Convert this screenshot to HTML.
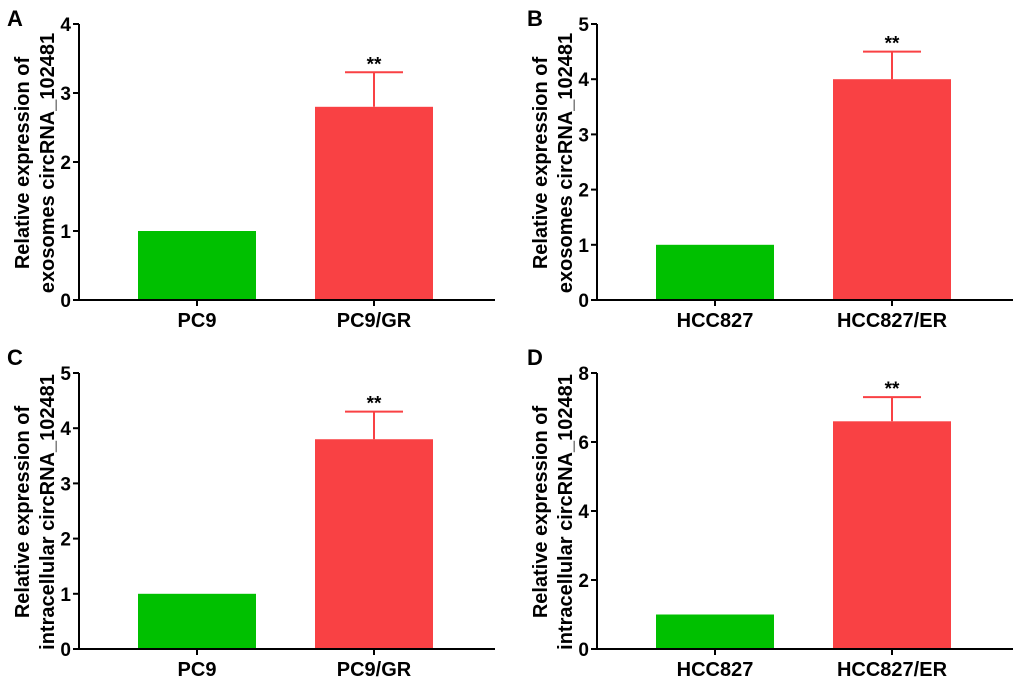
<!DOCTYPE html>
<html><head><meta charset="utf-8"><style>
html,body{margin:0;padding:0;background:#fff;}
svg{display:block;font-family:"Liberation Sans",Arial,sans-serif;font-weight:bold;}
</style></head><body>
<svg id="fig" width="1020" height="684" viewBox="0 0 1020 684" xmlns="http://www.w3.org/2000/svg"></svg>
<script>
const panelLetters = ["A","B","C","D"];
const catsA = ["PC9","PC9/GR"];
const catsB = ["HCC827","HCC827/ER"];
const valsA = [1, 2.8];
const errA = [0, 0.5];
const valsB = [1, 4.0];
const errB = [0, 0.5];
const valsC = [1, 3.8];
const errC = [0, 0.5];
const valsD = [1, 6.6];
const errD = [0, 0.7];
const ticksA = [0,1,2,3,4];
const ticksB = [0,1,2,3,4,5];
const ticksC = [0,1,2,3,4,5];
const ticksD = [0,2,4,6,8];
const titleLine1 = "Relative expression of";
const titleA2 = "exosomes circRNA_102481";
const titleC2 = "intracellular circRNA_102481";

const NS="http://www.w3.org/2000/svg";
const svg=document.getElementById('fig');
function mk(tag,attrs,parent){const e=document.createElementNS(NS,tag);for(const k in attrs)e.setAttribute(k,attrs[k]);(parent||svg).appendChild(e);return e;}

const panels=[
 {L:panelLetters[0],ox:79,top:24,bot:300,cats:catsA,vals:valsA,errs:errA,ticks:ticksA,t2:titleA2,lx:7,ly:26},
 {L:panelLetters[1],ox:597,top:24,bot:300,cats:catsB,vals:valsB,errs:errB,ticks:ticksB,t2:titleA2,lx:527,ly:26},
 {L:panelLetters[2],ox:79,top:373,bot:649,cats:catsA,vals:valsC,errs:errC,ticks:ticksC,t2:titleC2,lx:7,ly:365},
 {L:panelLetters[3],ox:597,top:373,bot:649,cats:catsB,vals:valsD,errs:errD,ticks:ticksD,t2:titleC2,lx:527,ly:365}
];
const colors=["#00c000","#f94144"];
panels.forEach((p,pi)=>{
  const g=mk('g',{});
  
  
  const ymax=p.ticks[p.ticks.length-1];
  const y=v=>p.bot-(v/ymax)*(p.bot-p.top);
  const barX=[p.ox+59,p.ox+236], bw=118;
  const lab=mk('text',{x:p.lx,y:p.ly,'font-size':22,fill:'#000'},g);lab.textContent=p.L;
  
  
  p.vals.forEach((v,i)=>{
    const r=mk('rect',{x:barX[i],y:y(v),width:bw,height:p.bot-y(v),fill:colors[i]},g);
    
    
    if(p.errs[i]>0){
      const cx=barX[i]+bw/2, yt=y(v+p.errs[i]);
      const e=mk('path',{d:`M${cx},${y(v)}V${yt}M${cx-29},${yt}H${cx+29}`,stroke:colors[i],'stroke-width':2,fill:'none'},g);
      
      
      const s=mk('text',{x:cx,y:yt-2,'font-size':19,'text-anchor':'middle',fill:'#000'},g);s.textContent='**';
      
      
    }
  });
  const ax=mk('path',{d:`M${p.ox},${p.top}V${p.bot}H${p.ox+416}`,stroke:'#000','stroke-width':2,fill:'none'},g);
  
  
  p.ticks.forEach(t=>{
    mk('line',{x1:p.ox-6,x2:p.ox,y1:y(t),y2:y(t),stroke:'#000','stroke-width':2},g);
    const tl=mk('text',{x:p.ox-8,y:y(t)+7,'font-size':19,'text-anchor':'end',fill:'#000'},g);tl.textContent=t;
    
    
  });
  p.cats.forEach((c,i)=>{
    const cx=barX[i]+bw/2;
    mk('line',{x1:cx,x2:cx,y1:p.bot,y2:p.bot+6,stroke:'#000','stroke-width':2},g);
    const xl=mk('text',{x:cx,y:p.bot+27,'font-size':20,'text-anchor':'middle',fill:'#000'},g);xl.textContent=c;
    
    
  });
  const mid=(p.top+p.bot)/2+1;
  const t=mk('text',{'font-size':20,'text-anchor':'middle',fill:'#000',transform:`translate(${p.ox-50},${mid}) rotate(-90)`},g);
  
  
  const s1=mk('tspan',{x:0,y:0},t);s1.textContent=titleLine1;
  const s2=mk('tspan',{x:0,y:25},t);s2.textContent=p.t2;
});
</script>
</body></html>
